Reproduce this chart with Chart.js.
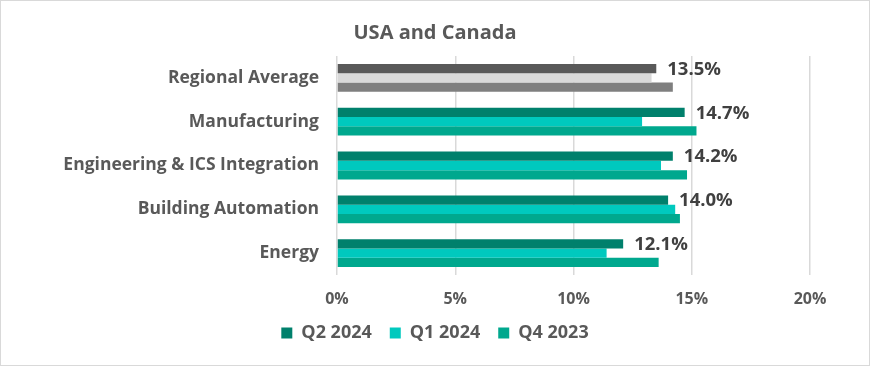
<!DOCTYPE html>
<html lang="en">
<head>
    <meta charset="UTF-8">
    <title>USA and Canada</title>
    <script src="https://cdn.jsdelivr.net/npm/chart.js"></script>
    <style>
        body { margin: 0; background: #fff; }
        .box { width: 868px; height: 364px; border: 1px solid #d9d9d9; }
    </style>
</head>
<body>
    <div class="box">
        <canvas id="grafico" width="868" height="364"></canvas>
    </div>

    <script>
        // dados
        const categorias = ['Regional Average', 'Manufacturing', 'Engineering & ICS Integration', 'Building Automation', 'Energy'];
        const series = ['Q2 2024', 'Q1 2024', 'Q4 2023'];
        const q2_2024 = [13.5, 14.7, 14.2, 14.0, 12.1];
        const q1_2024 = [13.3, 12.9, 13.7, 14.3, 11.4];
        const q4_2023 = [14.2, 15.2, 14.8, 14.5, 13.6];
        const ticksX = [0, 5, 10, 15, 20];

        const cores = ['#00806c', '#00c9be', '#00a88e'];
        const cinzas = ['#595959', '#d9d9d9', '#7f7f7f'];

        function coresPorBarra(i) {
            return categorias.map((c, j) => j === 0 ? cinzas[i] : cores[i]);
        }

        const fonte = '"Open Sans", Lato, sans-serif';

        // rótulos de valor só na série Q2 2024
        const rotulos = {
            id: 'rotulos',
            afterDatasetsDraw(chart) {
                const ctx = chart.ctx;
                const meta = chart.getDatasetMeta(0);
                ctx.save();
                ctx.font = 'bold 18.5px ' + fonte;
                ctx.fillStyle = '#404040';
                ctx.textBaseline = 'middle';
                ctx.textAlign = 'left';
                meta.data.forEach((bar, i) => {
                    ctx.fillText(q2_2024[i].toFixed(1) + '%', bar.x + 11, bar.y + 1);
                });
                ctx.restore();
            }
        };

        const ctx = document.getElementById('grafico').getContext('2d');
        new Chart(ctx, {
            type: 'bar',
            data: {
                labels: categorias,
                datasets: [
                    { label: series[0], data: q2_2024, backgroundColor: coresPorBarra(0) },
                    { label: series[1], data: q1_2024, backgroundColor: coresPorBarra(1) },
                    { label: series[2], data: q4_2023, backgroundColor: coresPorBarra(2) }
                ]
            },
            options: {
                indexAxis: 'y',
                responsive: false,
                animation: false,
                datasets: { bar: { barPercentage: 1, categoryPercentage: 0.635 } },
                layout: { padding: { left: 0, right: 0, top: 0, bottom: 13 } },
                scales: {
                    x: {
                        min: 0,
                        max: 20,
                        afterBuildTicks(scale) { scale.ticks = ticksX.map(v => ({ value: v })); },
                        afterFit(scale) { scale.height = 31; },
                        grid: { color: '#d9d9d9', lineWidth: 1.5, drawTicks: false },
                        border: { display: false },
                        ticks: {
                            padding: 15,
                            color: '#595959',
                            font: { family: fonte, size: 16, weight: 'bold' },
                            callback: v => v + '%'
                        }
                    },
                    y: {
                        afterFit(scale) { scale.width = 336; },
                        grid: { display: false, drawTicks: false },
                        border: { display: false },
                        ticks: {
                            padding: 18,
                            color: '#595959',
                            font: { family: fonte, size: 17.5, weight: 'bold' }
                        }
                    },
                    // eixo vazio à direita só para reservar a margem
                    margem: {
                        axis: 'y',
                        position: 'right',
                        afterFit(scale) { scale.width = 59; },
                        grid: { display: false, drawTicks: false },
                        border: { display: false },
                        ticks: { display: false }
                    }
                },
                plugins: {
                    title: {
                        display: true,
                        text: 'USA and Canada',
                        color: '#595959',
                        font: { family: fonte, size: 20, weight: 'bold' },
                        padding: { top: 20, bottom: 11 }
                    },
                    legend: {
                        position: 'bottom',
                        labels: {
                            boxWidth: 11,
                            boxHeight: 11,
                            padding: 18,
                            color: '#595959',
                            font: { family: fonte, size: 18, weight: 'bold' },
                            generateLabels(chart) {
                                return series.map((s, i) => ({
                                    text: s,
                                    fillStyle: cores[i],
                                    strokeStyle: cores[i],
                                    lineWidth: 0,
                                    fontColor: '#595959',
                                    datasetIndex: i
                                }));
                            }
                        }
                    },
                    tooltip: { enabled: false }
                }
            },
            plugins: [rotulos]
        });
    </script>
</body>
</html>
